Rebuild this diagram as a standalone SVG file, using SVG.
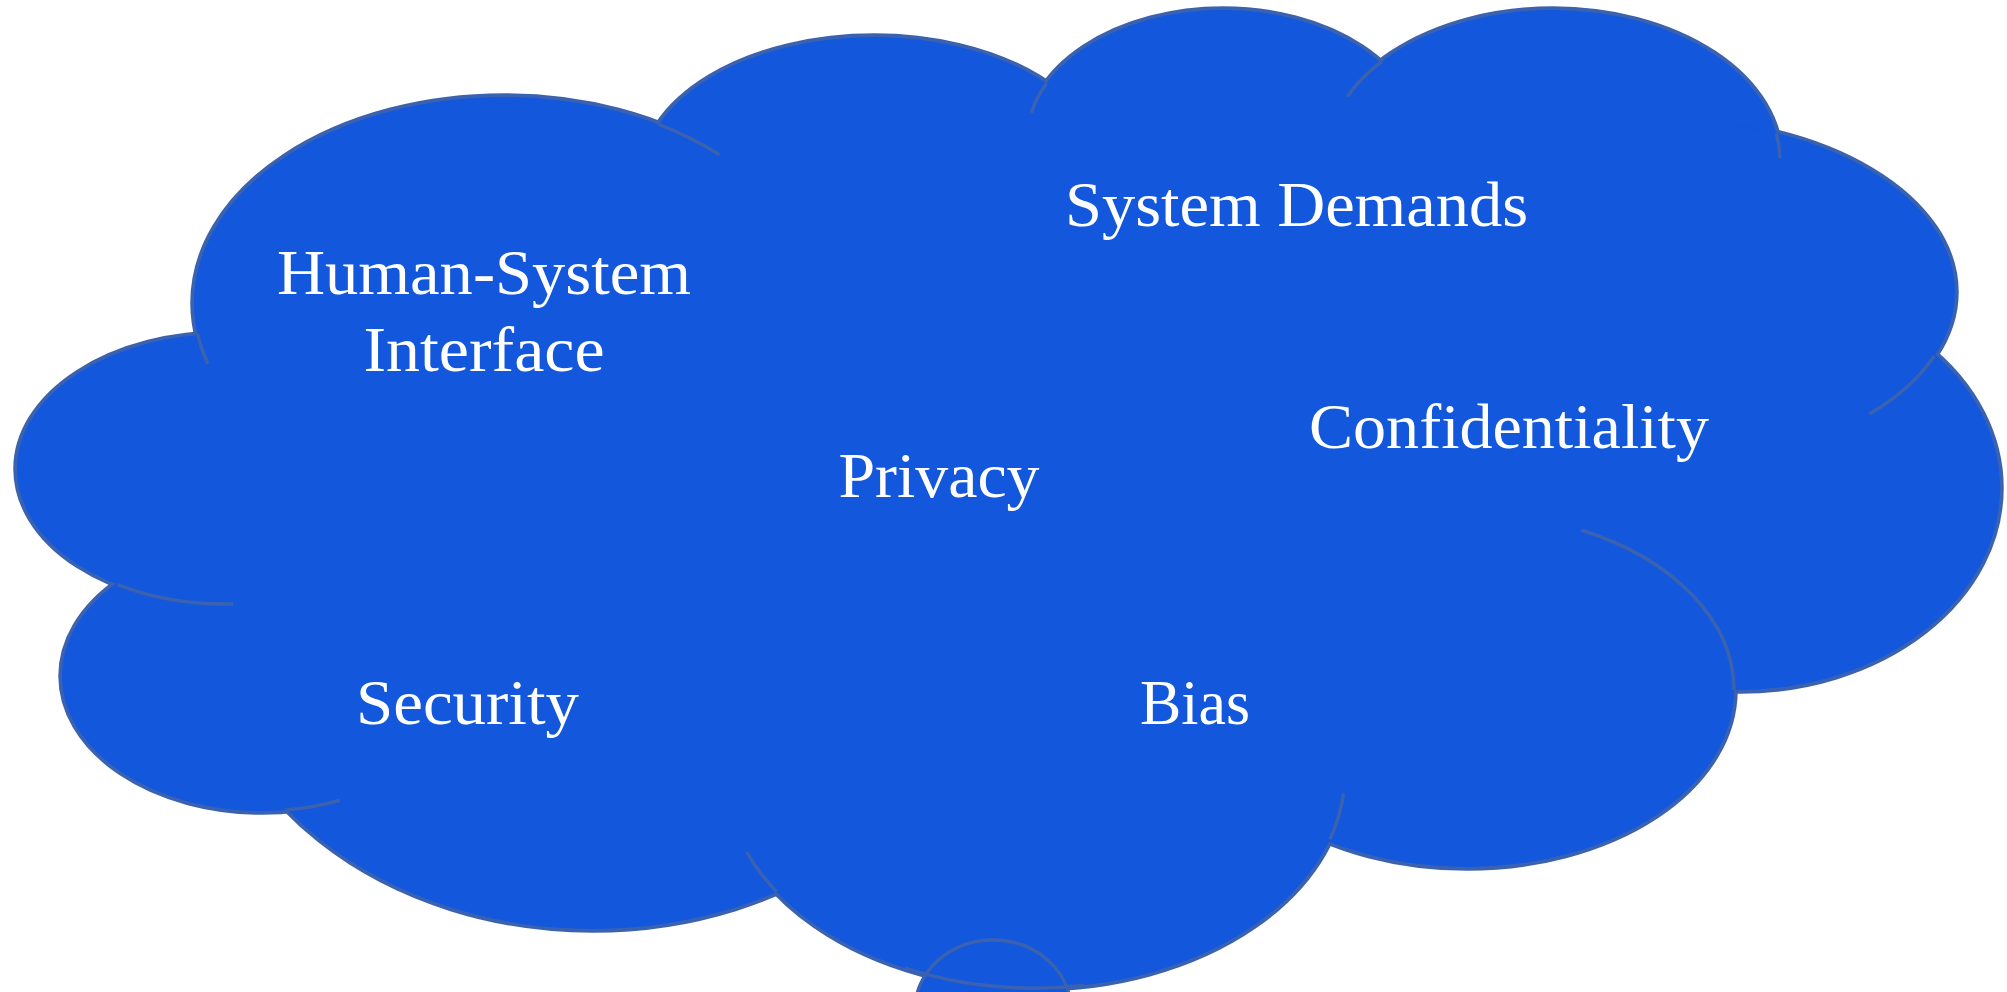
<svg xmlns="http://www.w3.org/2000/svg" width="2007" height="992" viewBox="0 0 2007 992">
<style>
.o{fill:#3a62b0;stroke:#3a62b0;stroke-width:7.5}
.f{fill:#1257dc;stroke:none}
.a{fill:none;stroke:#3a62b0;stroke-width:3.5}
.t{font-family:"Liberation Serif","Times New Roman",serif;font-size:64px;fill:#ffffff;text-anchor:middle}
</style>
<defs>
<g id="lobes">
<ellipse cx="504" cy="303" rx="310" ry="206"/>
<ellipse cx="874" cy="177" rx="232" ry="140"/>
<ellipse cx="1223" cy="140" rx="196" ry="130"/>
<ellipse cx="1553" cy="160" rx="227" ry="150"/>
<ellipse cx="1665" cy="292" rx="290" ry="172"/>
<ellipse cx="1740" cy="488" rx="260" ry="202"/>
<ellipse cx="1467" cy="690" rx="267" ry="177"/>
<ellipse cx="1035" cy="773" rx="310" ry="215"/>
<ellipse cx="593" cy="624" rx="385" ry="305"/>
<ellipse cx="262" cy="676" rx="200" ry="135"/>
<ellipse cx="225" cy="469" rx="208" ry="135"/>
</g>
</defs>
<rect width="2007" height="992" fill="#ffffff"/>
<g id="cloud">
<use href="#lobes" class="o"/>
<use href="#lobes" class="f"/>
<polygon class="f" points="197.5,333.8 658.5,124.4 1046.5,83.4 1381.9,61.4 1776.3,133.2 1934.2,356 1734,690 1329.8,839.4 776.5,891.7 285.7,810.1 117.6,584.6"/>
<g id="inner-arcs">
<path class="a" d="M197.5,333.8 A310,206 0 0 0 207.9,363.9"/>
<path class="a" d="M658.5,124.4 A310,206 0 0 1 719.4,154.8"/>
<path class="a" d="M117.6,584.6 A208,135 0 0 0 233.3,603.9"/>
<path class="a" d="M285.7,810.1 A200,135 0 0 0 339.8,800.3"/>
<path class="a" d="M776.5,891.7 A310,215 0 0 1 746.6,852"/>
<path class="a" d="M1329.8,839.4 A310,215 0 0 0 1343.6,793.2"/>
<path class="a" d="M1734,690 A267,177 0 0 0 1581.1,530"/>
<path class="a" d="M1934.2,356 A290,172 0 0 1 1869.3,414.1"/>
<path class="a" d="M1776.3,133.2 A227,150 0 0 1 1780,158"/>
<path class="a" d="M1381.9,61.4 A227,150 0 0 0 1347.4,96.4"/>
<path class="a" d="M1046.5,83.4 A196,130 0 0 0 1031.4,112.8"/>
</g>
<g id="small-lobe">
<ellipse cx="993" cy="1010" rx="78" ry="70" fill="#1257dc" stroke="#3a62b0" stroke-width="3.5"/>
<path class="a" d="M905,968.2 A310,215 0 0 0 1085,985.2"/>
</g>
</g>
<g id="labels">
<text class="t" x="1296.5" y="226" textLength="463" lengthAdjust="spacingAndGlyphs">System Demands</text>
<text class="t" x="484" y="294" textLength="414" lengthAdjust="spacingAndGlyphs">Human-System</text>
<text class="t" x="484" y="371" textLength="241" lengthAdjust="spacingAndGlyphs">Interface</text>
<text class="t" x="939" y="497" textLength="201" lengthAdjust="spacingAndGlyphs">Privacy</text>
<text class="t" x="1509" y="448" textLength="400" lengthAdjust="spacingAndGlyphs">Confidentiality</text>
<text class="t" x="467.5" y="724" textLength="223" lengthAdjust="spacingAndGlyphs">Security</text>
<text class="t" x="1195" y="724" textLength="110" lengthAdjust="spacingAndGlyphs">Bias</text>
</g>
</svg>
